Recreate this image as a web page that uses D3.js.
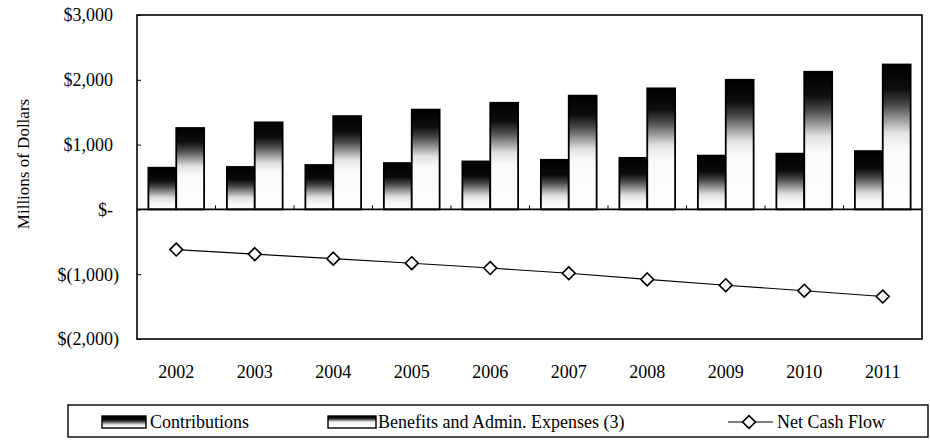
<!DOCTYPE html>
<html>
<head>
<meta charset="utf-8">
<script src="https://cdn.jsdelivr.net/npm/d3@7"></script>
<style>
  body { margin: 0; background: #fff; }
  svg text { font-family: "Liberation Serif", "DejaVu Serif", serif; }
</style>
</head>
<body>
<svg id="chart"></svg>
<script>
// Data (millions of dollars)
const years = ["2002", "2003", "2004", "2005", "2006", "2007", "2008", "2009", "2010", "2011"];
const contributions = [643, 655, 685, 715, 740, 765, 795, 830, 860, 900];
const benefits = [1256, 1343, 1440, 1540, 1645, 1755, 1868, 2000, 2124, 2236];
const netCashFlow = [-620, -690, -760, -830, -905, -985, -1080, -1170, -1255, -1345];
const yTicks = [3000, 2000, 1000, 0, -1000, -2000];

const width = 930, height = 440;
const marginTop = 15, marginRight = 8, marginBottom = 101, marginLeft = 137;

const svg = d3.select("#chart")
    .attr("width", width)
    .attr("height", height)
    .attr("viewBox", [0, 0, width, height]);

const x = d3.scaleBand(years, [marginLeft, width - marginRight]).paddingInner(0.29).paddingOuter(0.145);
const xCat = d3.scaleBand(years, [marginLeft, width - marginRight]);
const sub = d3.scaleBand(["c", "b"], [0, x.bandwidth()]);
const y = d3.scaleLinear([-2000, 3000], [height - marginBottom, marginTop]);

// gradient fills: black at the top fading to white
const defs = svg.append("defs");
function grad(id, stops) {
  const g = defs.append("linearGradient").attr("id", id).attr("x1", 0).attr("x2", 0).attr("y1", 0).attr("y2", 1);
  stops.forEach(([o, c]) => g.append("stop").attr("offset", o).attr("stop-color", c));
}
grad("gC", [[0, "#000"], [0.3, "#0a0a0a"], [0.45, "#444"], [0.6, "#999"], [0.72, "#ddd"], [0.85, "#f6f6f6"], [1, "#fff"]]);
grad("gB", [[0, "#000"], [0.17, "#0d0d0d"], [0.28, "#4a4a4a"], [0.38, "#9a9a9a"], [0.47, "#e2e2e2"], [0.58, "#fafafa"], [1, "#fff"]]);

// bars
const groups = svg.append("g")
  .selectAll("g")
  .data(years)
  .join("g")
    .attr("transform", d => `translate(${x(d)},0)`);

groups.append("rect")
    .attr("x", sub("c"))
    .attr("y", (d, i) => y(contributions[i]))
    .attr("width", sub.bandwidth())
    .attr("height", (d, i) => y(0) - y(contributions[i]))
    .attr("fill", "url(#gC)")
    .attr("stroke", "#000")
    .attr("stroke-width", 1.8);

groups.append("rect")
    .attr("x", sub("b"))
    .attr("y", (d, i) => y(benefits[i]))
    .attr("width", sub.bandwidth())
    .attr("height", (d, i) => y(0) - y(benefits[i]))
    .attr("fill", "url(#gB)")
    .attr("stroke", "#000")
    .attr("stroke-width", 1.8);

// zero line with small category ticks
svg.append("line")
    .attr("x1", marginLeft).attr("x2", width - marginRight)
    .attr("y1", y(0)).attr("y2", y(0))
    .attr("stroke", "#000").attr("stroke-width", 1.6);
svg.append("g")
  .selectAll("line")
  .data(years.slice(1))
  .join("line")
    .attr("x1", d => xCat(d)).attr("x2", d => xCat(d))
    .attr("y1", y(0)).attr("y2", y(0) - 4)
    .attr("stroke", "#000");

// plot frame
svg.append("rect")
    .attr("x", marginLeft).attr("y", marginTop)
    .attr("width", width - marginLeft - marginRight)
    .attr("height", height - marginTop - marginBottom)
    .attr("fill", "none").attr("stroke", "#000").attr("stroke-width", 1.6);

// y axis
svg.append("g")
    .attr("transform", `translate(${marginLeft},0)`)
    .call(d3.axisRight(y).tickValues(yTicks).tickSize(4).tickFormat(() => ""))
    .call(g => g.select(".domain").remove());

const yLabels = svg.append("g")
  .selectAll("text")
  .data(yTicks)
  .join("text")
    .attr("x", 119)
    .attr("y", d => y(d))
    .attr("dy", "0.35em")
    .attr("text-anchor", "end")
    .attr("font-size", 18);
yLabels.append("tspan")
    .text(d => d === 0 ? "$-" : d < 0 ? `$(${d3.format(",")(-d)})` : `$${d3.format(",")(d)}`);
yLabels.filter(d => d >= 0).append("tspan")
    .attr("fill-opacity", 0)
    .text(")");

svg.append("text")
    .attr("transform", "translate(29,164) rotate(-90)")
    .attr("text-anchor", "middle")
    .attr("font-size", 17)
    .text("Millions of Dollars");

// x labels
svg.append("g")
  .selectAll("text")
  .data(years)
  .join("text")
    .attr("x", d => xCat(d) + xCat.bandwidth() / 2)
    .attr("y", 378)
    .attr("text-anchor", "middle")
    .attr("font-size", 18)
    .text(d => d);

// net cash flow line
const line = d3.line()
    .x(d => xCat(d[0]) + xCat.bandwidth() / 2)
    .y(d => y(d[1]));
const pts = years.map((d, i) => [d, netCashFlow[i]]);
svg.append("path")
    .attr("d", line(pts))
    .attr("fill", "none")
    .attr("stroke", "#000")
    .attr("stroke-width", 1.1);

const diamond = d3.symbol(d3.symbolDiamond2, 105);
svg.append("g")
  .selectAll("path")
  .data(pts)
  .join("path")
    .attr("transform", d => `translate(${xCat(d[0]) + xCat.bandwidth() / 2},${y(d[1])})`)
    .attr("d", diamond())
    .attr("fill", "#fff")
    .attr("stroke", "#000")
    .attr("stroke-width", 1.6);

// legend
const legend = svg.append("g");
legend.append("rect")
    .attr("x", 68).attr("y", 405)
    .attr("width", 860).attr("height", 32)
    .attr("fill", "none").attr("stroke", "#000").attr("stroke-width", 1.4);

legend.append("rect")
    .attr("x", 102).attr("y", 416).attr("width", 44).attr("height", 12)
    .attr("fill", "url(#gC)").attr("stroke", "#000").attr("stroke-width", 1.4);
legend.append("text").attr("x", 150).attr("y", 428).attr("font-size", 18).text("Contributions");

legend.append("rect")
    .attr("x", 328).attr("y", 416).attr("width", 48).attr("height", 12)
    .attr("fill", "url(#gB)").attr("stroke", "#000").attr("stroke-width", 1.4);
legend.append("text").attr("x", 378).attr("y", 428).attr("font-size", 18).text("Benefits and Admin. Expenses (3)");

legend.append("line")
    .attr("x1", 728).attr("x2", 773).attr("y1", 422).attr("y2", 422)
    .attr("stroke", "#000").attr("stroke-width", 1.2);
legend.append("path")
    .attr("transform", "translate(749,422)")
    .attr("d", diamond())
    .attr("fill", "#fff").attr("stroke", "#000").attr("stroke-width", 1.6);
legend.append("text").attr("x", 777).attr("y", 428).attr("font-size", 18).text("Net Cash Flow");
</script>
</body>
</html>
